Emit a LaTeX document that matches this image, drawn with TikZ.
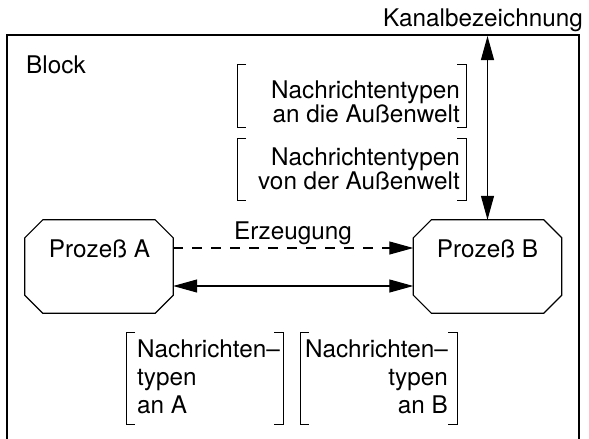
\documentclass[tikz,border=0pt]{standalone}
\usepackage{fontspec}
\setmainfont{TeX Gyre Heros}
\usetikzlibrary{arrows.meta}
\begin{document}
\begin{tikzpicture}[x=1pt,y=-1pt,
  proc/.style={rectangle, draw=none, minimum width=148pt, minimum height=93pt, inner sep=0pt},
  octo/.style={line width=1.2pt, line join=miter},
  lbl/.style={inner sep=0pt, font=\fontsize{24.3}{28}\selectfont},
  tlbl/.style={inner sep=0pt, font=\fontsize{24.3}{22}\selectfont},
  blbl/.style={inner sep=0pt, font=\fontsize{24.3}{28}\selectfont},
  brk/.style={line width=0.9pt},
  tip/.tip={Triangle[length=24pt,width=13pt]},
  arr/.style={line width=1.1pt},
]
\useasboundingbox (0,0) rectangle (589,439);
% block frame
\draw[line width=1.2pt] (7,445) -- (7,35) -- (579,35) -- (579,445);
\node[lbl, anchor=base west] (blk) at (26,73) {Block};
\node[lbl, anchor=base east] (kanal) at (583,27) {Kanalbezeichnung};
% processes
\node[proc] (A) at (99,266.5) {};
\node[proc] (B) at (487.5,266.5) {};
\foreach \n in {A,B}{
  \draw[octo] ([xshift=18pt]\n.north west) -- ([xshift=-18pt]\n.north east)
    -- ([yshift=-18pt]\n.north east) -- ([yshift=18pt]\n.south east)
    -- ([xshift=-18pt]\n.south east) -- ([xshift=18pt]\n.south west)
    -- ([yshift=18pt]\n.south west) -- ([yshift=-18pt]\n.north west) -- cycle;
}
\node[lbl, anchor=base] (tA) at (99.5,257) {Prozeß A};
\node[lbl, anchor=base] (tB) at (487.5,257) {Prozeß B};
% connectors
\node[lbl, anchor=base] (erz) at (293,239) {Erzeugung};
\draw[arr, dash pattern=on 10pt off 9pt, -tip] ([yshift=18.5pt]A.east) -- ([yshift=18.5pt]B.west);
\draw[arr, tip-tip] ([yshift=-19.5pt]A.east) -- ([yshift=-19.5pt]B.west);
\coordinate (kt) at (487.5,36);
\draw[arr, tip-tip] (B.north) -- (kt);
% top message type lists
\node[tlbl, align=right, anchor=north east] (m1) at (460,81) {Nachrichtentypen\\an die Außenwelt};
\node[tlbl, align=right, anchor=north east] (m2) at (460,148) {Nachrichtentypen\\von der Außenwelt};
\draw[brk] (246,64) -- (237,64) -- (237,127) -- (246,127);
\draw[brk] (457,64) -- (466,64) -- (466,127) -- (457,127);
\draw[brk] (246,138) -- (237,138) -- (237,200) -- (246,200);
\draw[brk] (457,138) -- (466,138) -- (466,200) -- (457,200);
% bottom message type lists
\node[blbl, align=left, anchor=north west] (m3) at (137,340) {Nachrichten–\\typen\\an A};
\node[blbl, align=right, anchor=north east] (m4) at (448,340) {Nachrichten–\\typen\\an B};
\draw[brk] (135,332) -- (126,332) -- (126,424) -- (135,424);
\draw[brk] (274,332) -- (283,332) -- (283,424) -- (274,424);
\draw[brk] (309,332) -- (300,332) -- (300,424) -- (309,424);
\draw[brk] (448,332) -- (457,332) -- (457,424) -- (448,424);
\end{tikzpicture}
\end{document}
